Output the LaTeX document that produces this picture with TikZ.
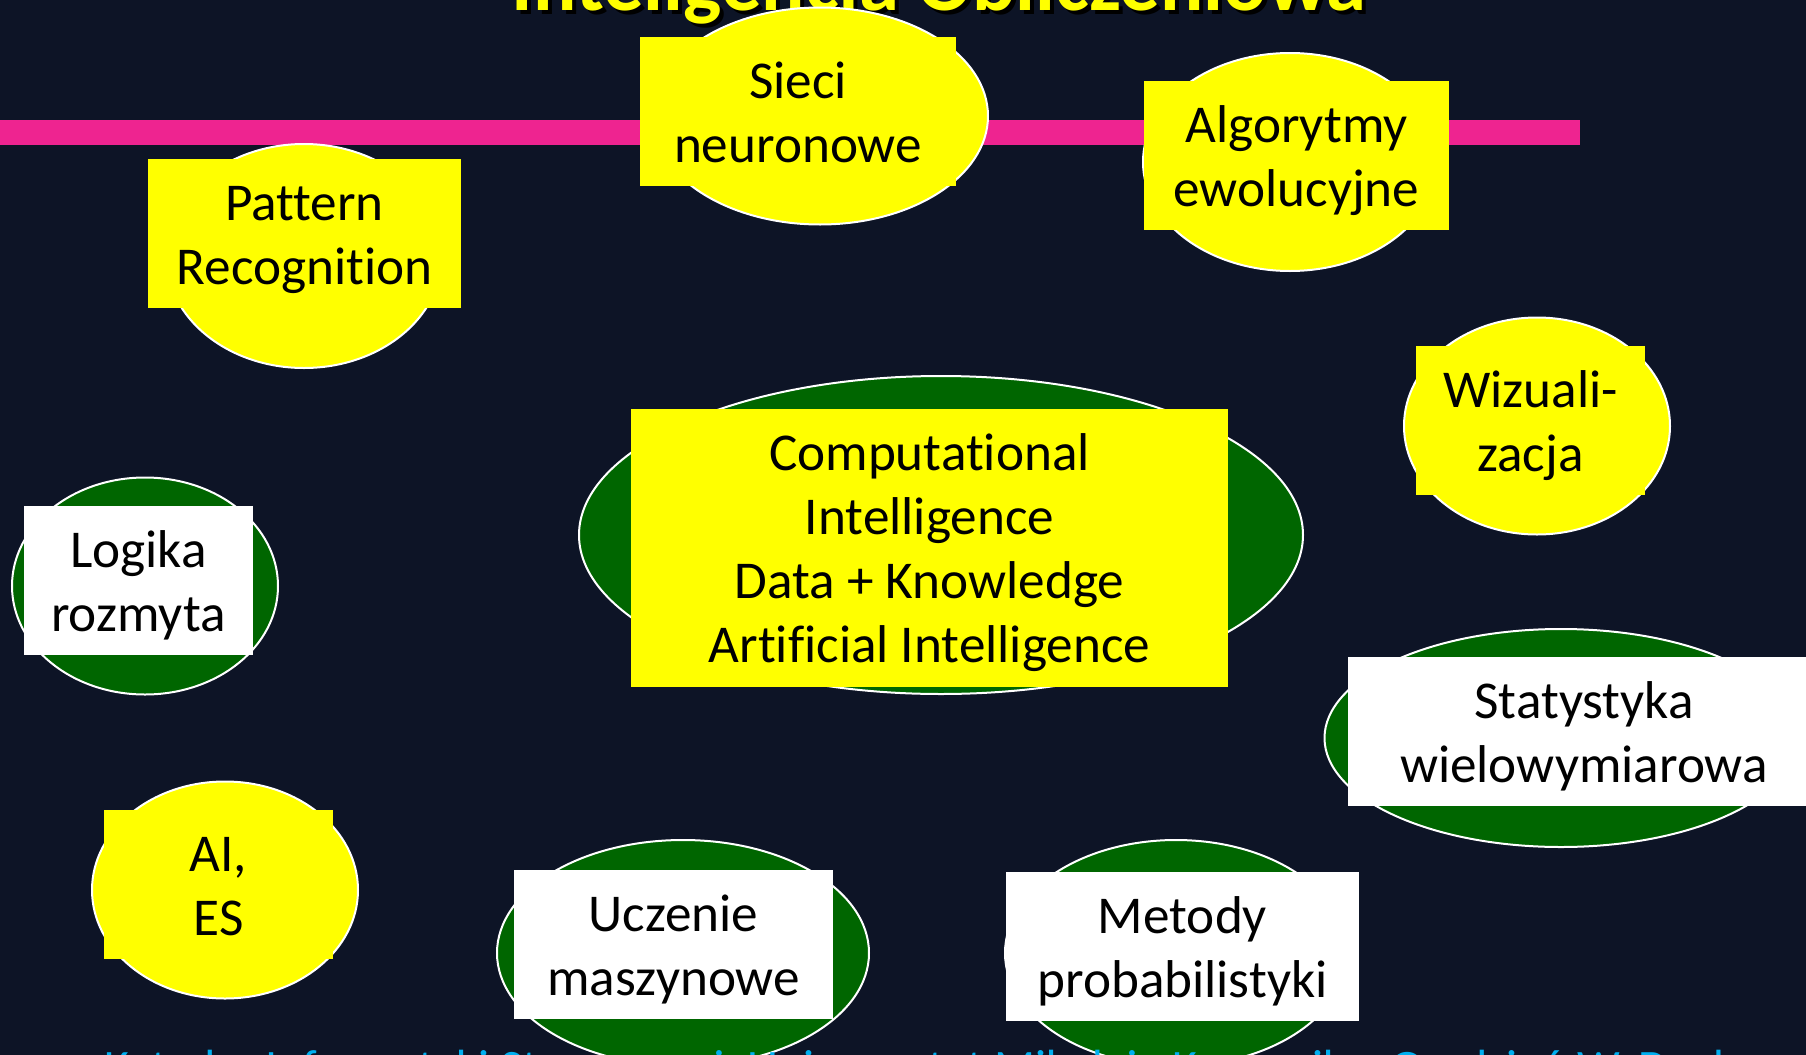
\documentclass[tikz,border=0pt]{standalone}
\usepackage{fontspec}
\setmainfont[Ligatures=CommonOff]{Carlito}
\usetikzlibrary{shapes.geometric}
\definecolor{bgnavy}{RGB}{13,20,38}
\definecolor{barpink}{RGB}{238,36,144}
\definecolor{ovalgreen}{RGB}{0,102,0}
\definecolor{yell}{RGB}{255,255,0}
\definecolor{footblue}{RGB}{0,176,240}
\tikzset{x=0.5pt,y=-0.5pt,
 ovalY/.style={fill=yell},
 ovalG/.style={fill=ovalgreen},
 lab/.style={anchor=center,align=center,inner sep=0pt,font=\fontsize{26.6pt}{32pt}\selectfont,text=black},
 labY/.style={lab,fill=yell},
 labW/.style={lab,fill=white},
 titletext/.style={font=\fontsize{40.4pt}{44pt}\selectfont\bfseries,inner sep=0pt,anchor=base},
}
\newcommand{\ov}[6]{% name, style, cx, cy, w, h (px)
 \node[ellipse,draw=white,line width=1pt,inner sep=0pt,#2,minimum width=#5*0.5pt,minimum height=#6*0.5pt] (#1) at (#3,#4) {};}
\newcommand{\lb}[7]{% name, style, x0,y0,x1,y1,text
 \node[#2,minimum width={(#5-#3)*0.5pt},minimum height={(#6-#4)*0.5pt}] (#1) at ({(#3+#5)/2},{(#4+#6)/2}) {\raisebox{0pt}[\dimexpr\height+5.8pt\relax][\depth]{\begin{tabular}{@{}c@{}}#7\end{tabular}}};}
\begin{document}
\begin{tikzpicture}
\fill[bgnavy] (0,0) rectangle (1806,1055);
\useasboundingbox (0,0) rectangle (1806,1055);
\begin{scope}
\clip (0,0) rectangle (1806,1055);
\node[titletext,text=black] (titleshadow) at (943,14) {Inteligencja Obliczeniowa};
\node[titletext,text=yell] (title) at (939,10) {Inteligencja Obliczeniowa};
\fill[barpink] (0,120) rectangle (1580,145);
\ov{o1}{ovalY}{820}{116}{336}{217}
\lb{l1}{labY}{640}{37}{956}{186}{Sieci\\neuronowe}
\ov{o2}{ovalY}{1290}{162}{294}{218}
\lb{l2}{labY}{1144}{81}{1449}{230}{Algorytmy\\ewolucyjne}
\ov{o3}{ovalY}{304}{256}{276}{224}
\lb{l3}{labY}{148}{159}{461}{308}{Pattern\\Recognition}
\ov{o4}{ovalY}{1537}{426}{266}{217}
\lb{l4}{labY}{1416}{346}{1645}{495}{Wizuali-\\zacja}
\ov{o5}{ovalG}{941}{535}{724}{318}
\lb{l5}{labY}{631}{409}{1228}{687}{Computational\\Intelligence\\Data + Knowledge\\Artificial Intelligence}
\ov{o6}{ovalG}{145}{586}{266}{217}
\lb{l6}{labW}{24}{506}{253}{655}{Logika\\rozmyta}
\ov{o7}{ovalG}{1561}{738}{473}{218}
\lb{l7}{labW}{1348}{657}{1820}{806}{Statystyka\\wielowymiarowa}
\ov{o8}{ovalY}{225}{890}{266}{217}
\lb{l8}{labY}{104}{810}{333}{959}{AI,\\ES}
\ov{o9}{ovalG}{683}{953}{372}{226}
\lb{l9}{labW}{514}{870}{833}{1019}{Uczenie\\maszynowe}
\ov{o10}{ovalG}{1176}{953}{342}{226}
\lb{l10}{labW}{1006}{872}{1359}{1021}{Metody\\probabilistyki}
\node[font=\fontsize{24pt}{28pt}\selectfont,text=footblue,inner sep=0pt,anchor=base west] (foot) at (104,1083) {Katedra Informatyki Stosowanej, Uniwersytet Mikołaja Kopernika, Grudzień W. Duch};
\end{scope}
\end{tikzpicture}
\end{document}
